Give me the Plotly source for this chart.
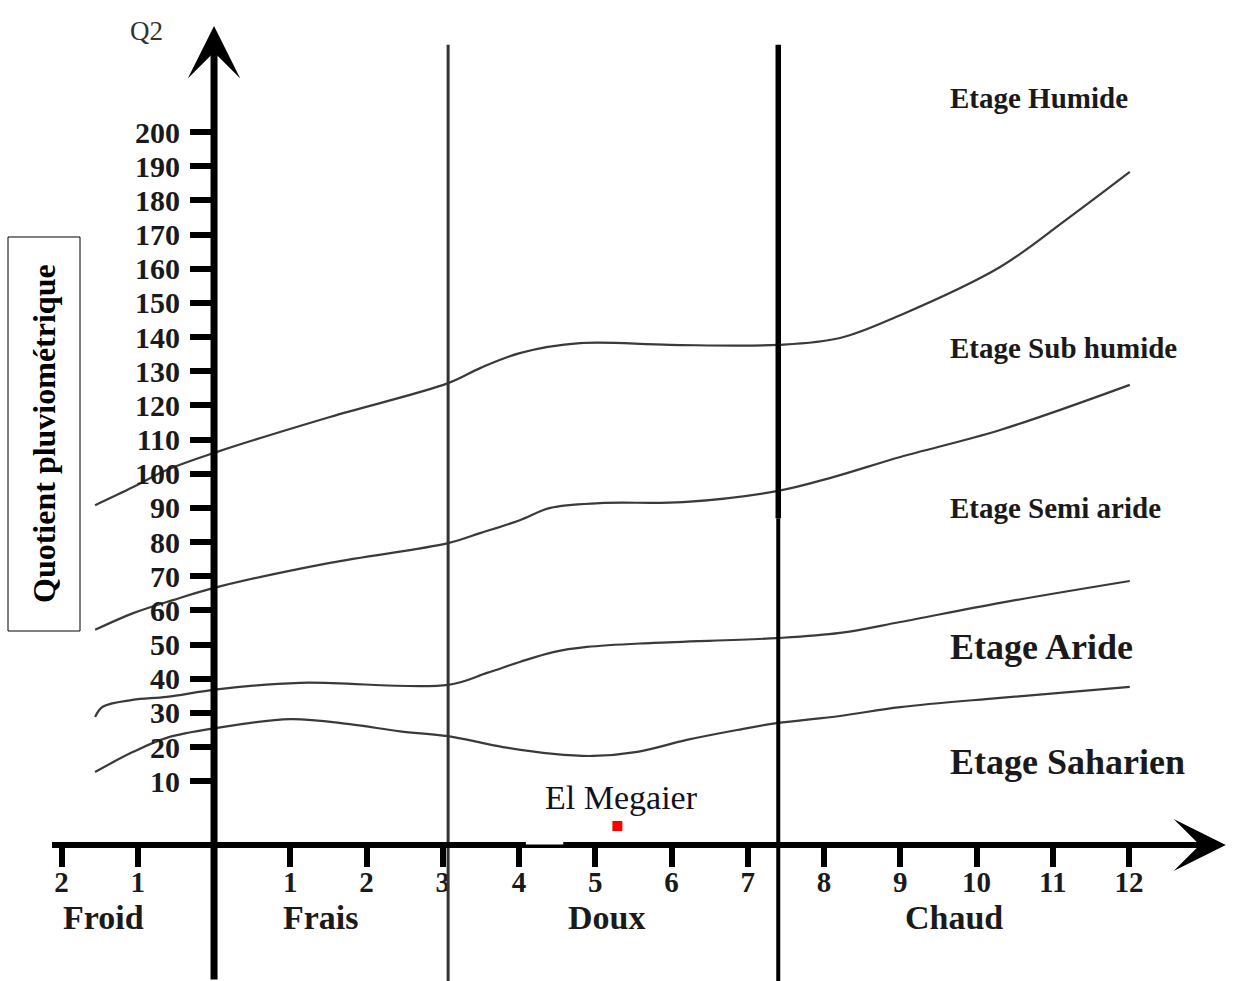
import plotly.graph_objects as go

# ---------------- data ----------------
# x: m (mean minimum temperature of the coldest month, °C), y: Q2 (Emberger quotient)
m_ticks = [-2, -1, 1, 2, 3, 4, 5, 6, 7, 8, 9, 10, 11, 12]
m_ticktext = ["2", "1", "1", "2", "3", "4", "5", "6", "7", "8", "9", "10", "11", "12"]
q2_ticks = [10, 20, 30, 40, 50, 60, 70, 80, 90, 100, 110, 120, 130, 140, 150, 160, 170, 180, 190, 200]

# Humide / Sub humide limit
c1_m = [-1.56, -1.06, -0.62, 0.04, 1.52, 3.07, 3.49, 4.01, 4.80, 5.98, 7.40, 8.21, 9.00, 10.31, 11.17, 12.01]
c1_q2 = [90.8, 96.1, 101.1, 106.4, 116.6, 126.5, 130.9, 135.3, 138.2, 137.7, 137.7, 139.7, 146.4, 160.5, 174.2, 188.3]
# Sub humide / Semi aride limit
c2_m = [-1.56, -1.06, -0.54, 0.04, 1.52, 3.07, 3.49, 4.01, 4.41, 5.06, 6.15, 7.38, 8.12, 9.00, 10.31, 12.01]
c2_q2 = [54.3, 59.2, 63.0, 66.8, 73.9, 79.7, 82.6, 86.4, 90.0, 91.4, 91.7, 94.9, 99.0, 104.9, 112.8, 126.0]
# Semi aride / Aride limit
c3_m = [-1.56, -1.46, -1.07, -0.62, 0.04, 1.13, 3.07, 3.58, 4.01, 4.45, 4.89, 5.76, 7.38, 8.21, 9.00, 10.31, 12.01]
c3_q2 = [28.8, 31.8, 33.8, 34.7, 36.9, 38.8, 38.2, 41.7, 44.9, 47.8, 49.3, 50.5, 51.9, 53.4, 56.6, 62.2, 68.6]
# Aride / Saharien limit
c4_m = [-1.56, -1.06, -0.62, 0.04, 1.00, 1.78, 2.44, 3.07, 3.79, 4.45, 4.97, 5.55, 6.20, 6.86, 7.38, 8.21, 9.00, 10.31, 12.01]
c4_q2 = [12.7, 18.6, 22.7, 25.6, 28.2, 26.7, 24.6, 23.2, 20.0, 18.0, 17.4, 18.6, 22.1, 25.0, 27.0, 29.1, 31.7, 34.4, 37.6]

zones = ["Etage Humide", "Etage Sub humide", "Etage Semi aride", "Etage Aride", "Etage Saharien"]
zone_label_q2 = [210.0, 136.8, 90.0, 49.3, 15.6]

classes = ["Froid", "Frais", "Doux", "Chaud"]
class_centers = [-1.45, 1.40, 5.15, 9.70]
class_bounds = [3.07, 7.40]

station_name = ["El Megaier"]
station_m = [5.29]
station_q2 = [-3.1]

# ---------------- scales ----------------
W, H = 1233, 981
x_lo, x_hi = -2.807, 13.364
y_lo, y_hi = -48.46, 238.63
x_axis_q2 = -8.66          # level where the m axis is drawn
x_axis_start = -2.125
x_arrow_tip = 13.27
y_arrow_tip = 231.0
vline_top = 225.5
vline_split = 87.0

SERIF = "Liberation Serif"
INK = "#1a1a1a"

fig = go.Figure()

for xs, ys in [(c1_m, c1_q2), (c2_m, c2_q2), (c3_m, c3_q2), (c4_m, c4_q2)]:
    fig.add_trace(go.Scatter(
        x=xs, y=ys, mode="lines",
        line=dict(color="#3a3a3a", width=2.2, shape="spline", smoothing=1.0),
        hoverinfo="skip", showlegend=False))

fig.add_trace(go.Scatter(
    x=station_m, y=station_q2, mode="markers",
    marker=dict(symbol="square", size=10, color="#ff0000", line=dict(width=0)),
    showlegend=False, hoverinfo="skip"))

shapes = []
# class boundary lines
shapes.append(dict(type="line", xref="x", yref="y", x0=class_bounds[0], x1=class_bounds[0],
                   y0=y_lo, y1=vline_top, line=dict(color="#333333", width=3), layer="above"))
shapes.append(dict(type="line", xref="x", yref="y", x0=class_bounds[1], x1=class_bounds[1],
                   y0=vline_split, y1=vline_top, line=dict(color="#000000", width=5.5), layer="above"))
shapes.append(dict(type="line", xref="x", yref="y", x0=class_bounds[1], x1=class_bounds[1],
                   y0=y_lo, y1=vline_split, line=dict(color="#000000", width=4), layer="above"))
# m axis line
shapes.append(dict(type="line", xref="x", yref="y", x0=x_axis_start, x1=12.5,
                   y0=x_axis_q2, y1=x_axis_q2, line=dict(color="#000000", width=6), layer="above"))
# small white gap on the axis line below the label
shapes.append(dict(type="rect", xref="x", yref="y", x0=4.09, x1=4.58,
                   y0=-8.5, y1=-6.7, fillcolor="white", line=dict(width=0), layer="above"))
# frame of the y title
shapes.append(dict(type="rect", xref="paper", yref="paper", x0=8 / W, x1=80 / W,
                   y0=1 - 631 / H, y1=1 - 237 / H, line=dict(color="#000000", width=1),
                   fillcolor="rgba(0,0,0,0)", layer="above"))

annotations = []
# y axis with arrow head
annotations.append(dict(x=0, y=y_arrow_tip, ax=0, ay=y_lo, xref="x", yref="y", axref="x", ayref="y",
                        text="", showarrow=True, arrowhead=3, arrowsize=1.25, arrowwidth=7,
                        arrowcolor="#000000", standoff=0))
# arrow head of the m axis
annotations.append(dict(x=x_arrow_tip, y=x_axis_q2, ax=12.3, ay=x_axis_q2, xref="x", yref="y",
                        axref="x", ayref="y", text="", showarrow=True, arrowhead=3, arrowsize=1.45,
                        arrowwidth=6, arrowcolor="#000000", standoff=0))
# Q2 label
annotations.append(dict(x=-0.89, y=229.6, xref="x", yref="y", text="Q2", showarrow=False,
                        font=dict(family=SERIF, size=27, color="#333333")))
# zone labels
for name, q in zip(zones, zone_label_q2):
    big = name in ("Etage Aride", "Etage Saharien")
    annotations.append(dict(x=9.63, y=q, xref="x", yref="y", text=name, showarrow=False,
                            xanchor="left", yanchor="middle",
                            font=dict(family=SERIF, size=36 if big else 29, color=INK, weight="bold")))
# thermal classes
for name, c in zip(classes, class_centers):
    annotations.append(dict(x=c, y=-30.0, xref="x", yref="y", text=name, showarrow=False,
                            xanchor="center", yanchor="middle",
                            font=dict(family=SERIF, size=34, color=INK, weight="bold")))
# station label
for name, sx, sy in zip(station_name, station_m, station_q2):
    annotations.append(dict(x=sx, y=sy, xref="x", yref="y", text=name, showarrow=False,
                            xanchor="center", yanchor="middle", xshift=4, yshift=29,
                            font=dict(family=SERIF, size=34, color="#111122")))
# y title
annotations.append(dict(x=44 / W, y=1 - 434 / H, xref="paper", yref="paper",
                        text="Quotient pluviométrique", textangle=-90, showarrow=False,
                        xanchor="center", yanchor="middle",
                        font=dict(family=SERIF, size=32, color="#000000", weight="bold")))

fig.update_layout(
    width=W, height=H,
    margin=dict(l=0, r=0, t=0, b=0, pad=0),
    paper_bgcolor="white", plot_bgcolor="white",
    showlegend=False,
    shapes=shapes,
    annotations=annotations,
    xaxis=dict(range=[x_lo, x_hi], domain=[0, 1], anchor="free",
               position=(x_axis_q2 - y_lo) / (y_hi - y_lo), side="bottom",
               showline=False, showgrid=False, zeroline=False,
               ticks="outside", ticklen=21, tickwidth=6, tickcolor="#000000",
               tickvals=m_ticks, ticktext=m_ticktext, ticklabelstandoff=-10,
               tickfont=dict(family=SERIF, size=29, color=INK, weight="bold"),
               fixedrange=True),
    yaxis=dict(range=[y_lo, y_hi], domain=[0, 1], anchor="free",
               position=(0 - x_lo) / (x_hi - x_lo), side="left",
               showline=False, showgrid=False, zeroline=False,
               ticks="outside", ticklen=24, tickwidth=6, tickcolor="#000000",
               tickvals=q2_ticks, ticklabelstandoff=4,
               tickfont=dict(family=SERIF, size=30, color=INK, weight="bold"),
               fixedrange=True),
)

fig.write_html("out.html", config={"displayModeBar": False},
               post_script="document.body.style.margin='0px';")
